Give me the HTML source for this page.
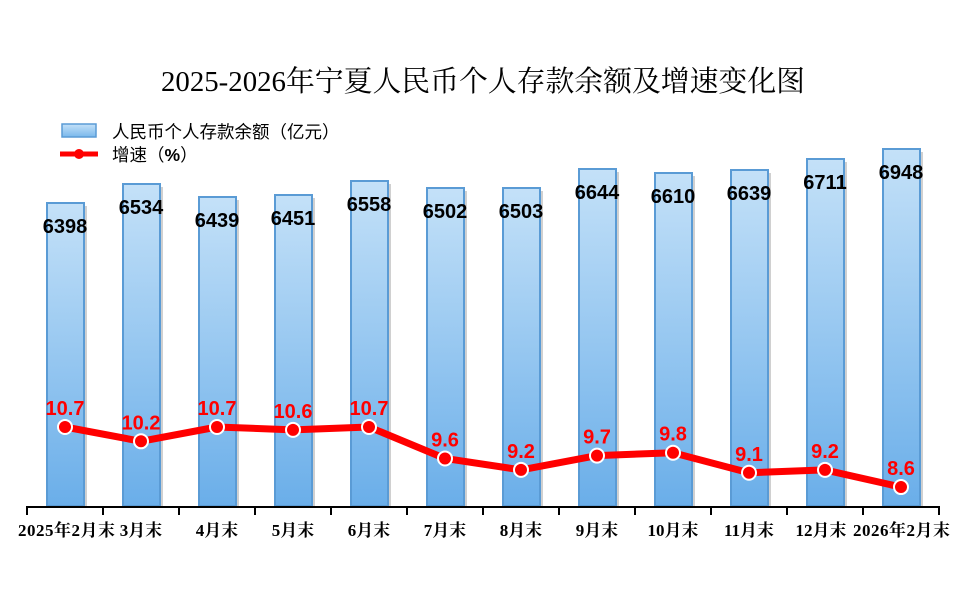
<!DOCTYPE html>
<html><head><meta charset="utf-8"><style>
html,body{margin:0;padding:0;background:#fff;width:968px;height:599px;overflow:hidden}
</style></head><body>
<svg width="968" height="599" xmlns="http://www.w3.org/2000/svg">
<defs>
<linearGradient id="g" x1="0" y1="0" x2="0" y2="1">
<stop offset="0" stop-color="#c4e1f8"/><stop offset="1" stop-color="#6aaee9"/>
</linearGradient>
<linearGradient id="lg" x1="0" y1="0" x2="0" y2="1">
<stop offset="0" stop-color="#c4e1f8"/><stop offset="1" stop-color="#7ab8ec"/>
</linearGradient>
</defs>
<text x="483" y="91" text-anchor="middle" font-family="'Liberation Serif','Noto Serif CJK SC',serif" font-size="29" fill="#000" textLength="644" lengthAdjust="spacingAndGlyphs">2025-2026年宁夏人民币个人存款余额及增速变化图</text>
<rect x="62" y="124" width="34" height="13" fill="url(#lg)" stroke="#5a9bd5" stroke-width="1.5"/>
<text x="112" y="138" font-family="'Liberation Sans','Noto Sans CJK SC',sans-serif" font-size="17.5" fill="#000">人民币个人存款余额（亿元）</text>
<line x1="60" y1="154" x2="98" y2="154" stroke="#f00" stroke-width="5"/>
<circle cx="79" cy="154" r="5" fill="#f00"/>
<text x="112" y="161" font-family="'Liberation Sans','Noto Sans CJK SC',sans-serif" font-size="17.5" fill="#000">增速（<tspan font-weight="bold">%</tspan>）</text>
<g id="bars"></g>
<line x1="26" y1="507" x2="940" y2="507" stroke="#000" stroke-width="2"/>
<g id="ticks"></g>
<g id="line"></g>
<script>
var vals=[6398,6534,6439,6451,6558,6502,6503,6644,6610,6639,6711,6948];
var tops=[203,184,197,195,181,188,188,169,173,170,159,149];
var g=[10.7,10.2,10.7,10.6,10.7,9.6,9.2,9.7,9.8,9.1,9.2,8.6];
var labs=["2025年2月末","3月末","4月末","5月末","6月末","7月末","8月末","9月末","10月末","11月末","12月末","2026年2月末"];
var ns="http://www.w3.org/2000/svg";
function el(p,t,a,txt){var e=document.createElementNS(ns,t);for(var k in a)e.setAttribute(k,a[k]);if(txt!=null)e.textContent=txt;document.getElementById(p).appendChild(e);return e;}
var pts=[];
for(var i=0;i<12;i++){
 var cx=65+76*i;
 el("bars","rect",{x:cx-18+3,y:tops[i]+3,width:37,height:504-tops[i],fill:"#d0d0d0"});
 el("bars","rect",{x:cx-18,y:tops[i],width:37,height:506-tops[i],fill:"url(#g)",stroke:"#5a9bd5","stroke-width":2});
 el("bars","text",{x:cx,y:tops[i]+30,"text-anchor":"middle","font-family":"'Liberation Sans',sans-serif","font-weight":"bold","font-size":"20",fill:"#000"},vals[i]);
 var y=427+(10.7-g[i])*28.6;pts.push(cx+","+y);
 el("line","text",{x:cx,y:y-12,"text-anchor":"middle","font-family":"'Liberation Sans',sans-serif","font-weight":"bold","font-size":"20",fill:"#f00"},g[i].toFixed(1));
}
for(var i=0;i<=12;i++){var x=27+76*i;el("ticks","line",{x1:x,y1:507,x2:x,y2:515,stroke:"#000","stroke-width":2});}
for(var i=0;i<12;i++){var cx=65+76*i;var x=cx,anc="middle";
 var a={y:536,"font-family":"'Liberation Serif','Noto Serif CJK SC',serif","font-weight":"bold","font-size":"17",fill:"#000"};
 if(i==0){x=18;anc="start";a.textLength=97;} if(i==11){x=950;anc="end";a.textLength=97;} if(i==10){x=cx-4;}
 a.x=x;a["text-anchor"]=anc;
 el("ticks","text",a,labs[i]);}
var pl=el("line","polyline",{points:pts.join(" "),fill:"none",stroke:"#f00","stroke-width":7,"stroke-linejoin":"round"});
document.getElementById("line").insertBefore(pl,document.getElementById("line").firstChild);
pts.forEach(function(p){var a=p.split(",");el("line","circle",{cx:a[0],cy:a[1],r:7,fill:"#f00",stroke:"#fff","stroke-width":2});});
</script>
</svg>
</body></html>
